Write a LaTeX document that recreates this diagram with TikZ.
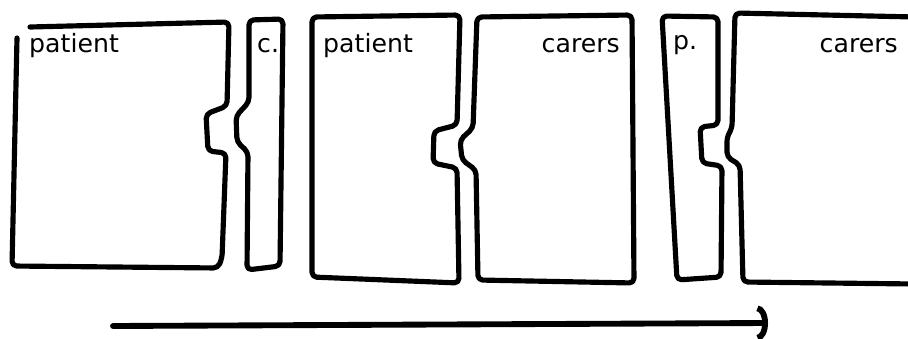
\documentclass[tikz,border=0pt]{standalone}
\usepackage{fontspec}
\setmainfont{DejaVu Sans}
\usetikzlibrary{arrows.meta}

\begin{document}
\begin{tikzpicture}[x=0.03cm,y=-0.03cm,line join=round,line cap=round,
  piece/.style={line width=4.4pt,rounded corners=4pt},
  lbl/.style={inner sep=0pt,font=\fontsize{21.5}{24}\selectfont}]
 \useasboundingbox (0,0) rectangle (908,338);
 % patient with a thin carers piece
 \draw[piece] (17,38) -- (12,266) -- (218,268) -- (222,258) -- (226,153) -- (208,151) -- (206,114) -- (227,106) -- (229,22) -- (30,27);
 \draw[piece] (249,20) -- (283,19) -- (280,266) -- (247,270) -- (248,152) -- (237,142) -- (236,116) -- (249,102) -- cycle;
 \node[lbl,anchor=base west] (pat1) at (29,53) {patient}; \node[lbl,anchor=base west] (c1) at (257,53) {c.};
 % patient and carers, equal halves
 \draw[piece] (312,17) -- (460,15) -- (457,125) -- (434,131) -- (433,163) -- (457,168) -- (459,283) -- (312,277) -- cycle;
 \draw[piece] (477,17) -- (632,15) -- (634,283) -- (478,280) -- (476,170) -- (462,160) -- (460,140) -- (473,128) -- cycle;
 \node[lbl,anchor=base west] (pat2) at (323,53) {patient}; \node[lbl,anchor=base east] (car1) at (620,53) {carers};
 % thin patient piece with carers
 \draw[piece] (662,16) -- (718,17) -- (718,125) -- (700,127) -- (702,163) -- (722,166) -- (721,277) -- (677,280) -- cycle;
 \draw[piece] (915,17) -- (735,13) -- (732,128) -- (727,137) -- (727,157) -- (740,165) -- (743,282) -- (915,284);
 \node[lbl,anchor=base west] (p1) at (673,50) {p.}; \node[lbl,anchor=base east] (car2) at (898,53) {carers};
 % time
 \coordinate (tail) at (113,326); \coordinate (head) at (768,323);
 \draw[line width=5pt,-{Arc Barb[length=9pt,width=30pt,line width=5pt]}] (tail) -- (head);
\end{tikzpicture}
\end{document}
